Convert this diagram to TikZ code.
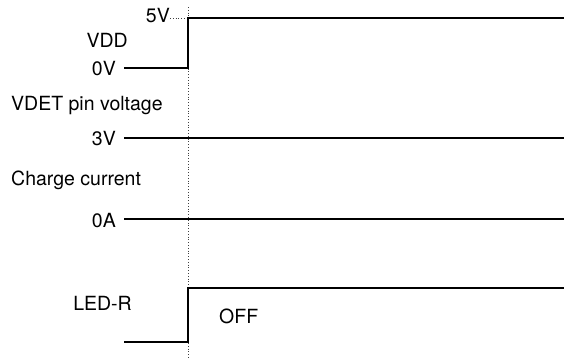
\documentclass[tikz,border=0pt]{standalone}
\usepackage{fontspec}
\setmainfont{TeX Gyre Heros}
\begin{document}
\begin{tikzpicture}[x=1pt,y=-1pt,
  lbl/.style={inner sep=0pt,font=\fontsize{19.5}{22}\selectfont},
  lblR/.style={lbl,anchor=base east},
  lblL/.style={lbl,anchor=base west},
  sig/.style={line width=2.4pt,line join=miter},
  guide/.style={line width=0.8pt,dotted,draw=black!75}]
\useasboundingbox (0,0) rectangle (564,359);
% labels
\node[lblR] (v5) at (170,22) {5V};
\node[lblR] (vdd) at (128,47) {VDD};
\node[lblR] (v0) at (116,75) {0V};
\node[lblL] (vdet) at (11,110) {VDET pin voltage};
\node[lblR] (v3) at (116,145) {3V};
\node[lblL] (chg) at (11,185) {Charge current};
\node[lblR] (a0) at (116,227) {0A};
\node[lblR] (led) at (132,310) {LED-R};
\node[lblL] (off) at (219,323) {OFF};
% coordinates
\coordinate (gtop) at (188,7);
\coordinate (gbot) at (188,359);
\coordinate (d5) at (188,18);
\coordinate (vddL) at (124,68);
\coordinate (vddS) at (188,68);
\coordinate (vddE) at (564,18);
\coordinate (v3L) at (124,138);
\coordinate (v3E) at (564,138);
\coordinate (a0L) at (124,219);
\coordinate (a0E) at (564,219);
\coordinate (ledL) at (124,342);
\coordinate (ledS) at (188,342);
\coordinate (ledH) at (188,288);
\coordinate (ledE) at (564,288);
% guides
\draw[guide] (gtop) -- (gbot);
\draw[guide] (v5.east |- d5) -- (d5);
% signals
\draw[sig] (vddL) -- (vddS) -- (d5) -- (vddE);
\draw[sig] (v3L) -- (v3E);
\draw[sig] (a0L) -- (a0E);
\draw[sig] (ledL) -- (ledS) -- (ledH) -- (ledE);
\end{tikzpicture}
\end{document}
